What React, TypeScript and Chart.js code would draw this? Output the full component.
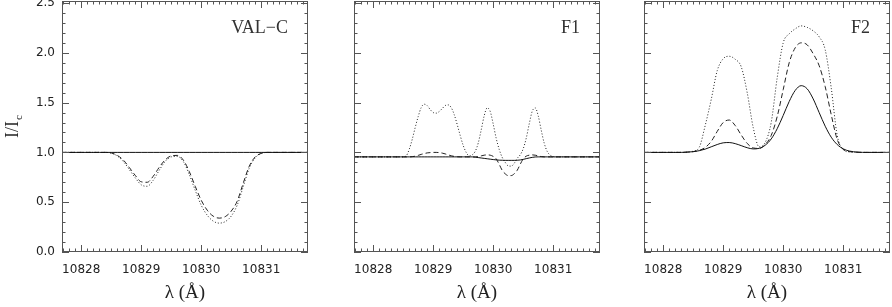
import { useEffect, useRef } from "react";
import { Chart, registerables } from "chart.js";
Chart.register(...registerables);

// ---------- axes ----------
const xTicks = [10828, 10829, 10830, 10831];
const yTicks = [0, 0.5, 1.0, 1.5, 2.0, 2.5];
const X_MIN = 10827.68;
const X_MAX = 10831.78;
const Y_MIN = 0;
const Y_MAX = 2.52;
const panelNames = ["VAL\u2212C", "F1", "F2"];

// ---------- wavelength grids (Å) ----------
const lambdaCoarse = [
  10827.68, 10828.0, 10828.3, 10828.4, 10828.5, 10828.6, 10828.7, 10828.8, 10828.9, 10829.0,
  10829.1, 10829.2, 10829.3, 10829.4, 10829.5, 10829.6, 10829.7, 10829.8, 10829.9, 10830.0,
  10830.1, 10830.2, 10830.3, 10830.4, 10830.5, 10830.6, 10830.7, 10830.8, 10830.9, 10831.0,
  10831.1, 10831.4, 10831.78,
];
const lambdaFine = [
  10827.68, 10828.0, 10828.3, 10828.4, 10828.45, 10828.5, 10828.55, 10828.6, 10828.65, 10828.7,
  10828.75, 10828.8, 10828.85, 10828.9, 10828.95, 10829.0, 10829.05, 10829.1, 10829.15, 10829.2,
  10829.25, 10829.3, 10829.35, 10829.4, 10829.45, 10829.5, 10829.55, 10829.6, 10829.65, 10829.7,
  10829.75, 10829.8, 10829.85, 10829.9, 10829.95, 10830.0, 10830.05, 10830.1, 10830.15, 10830.2,
  10830.25, 10830.3, 10830.35, 10830.4, 10830.45, 10830.5, 10830.55, 10830.6, 10830.65, 10830.7,
  10830.75, 10830.8, 10830.85, 10830.9, 10830.95, 10831.0, 10831.05, 10831.1, 10831.4, 10831.78,
];

// ---------- VAL-C ----------
const valcSolid = [
  1, 1, 1, 1, 1, 1, 1, 1, 1, 1, 1, 1, 1, 1, 1, 1, 1, 1, 1, 1, 1, 1, 1, 1, 1, 1, 1, 1, 1, 1, 1, 1, 1,
];
const valcDashed = [
  1, 1, 1, 1, 0.995, 0.97, 0.925, 0.85, 0.77, 0.705, 0.7, 0.76, 0.85, 0.925, 0.965, 0.97, 0.925,
  0.81, 0.66, 0.52, 0.42, 0.36, 0.34, 0.355, 0.41, 0.51, 0.69, 0.86, 0.955, 0.99, 1, 1, 1,
];
const valcDotted = [
  1, 1, 1, 1, 0.993, 0.965, 0.91, 0.83, 0.745, 0.675, 0.66, 0.72, 0.82, 0.91, 0.955, 0.96, 0.91,
  0.78, 0.62, 0.47, 0.37, 0.31, 0.29, 0.305, 0.36, 0.47, 0.655, 0.84, 0.945, 0.988, 1, 1, 1,
];

// ---------- F1 ----------
const f1Solid = [
  0.955, 0.955, 0.955, 0.955, 0.955, 0.955, 0.955, 0.955, 0.955, 0.955,
  0.955, 0.955, 0.955, 0.955, 0.955, 0.955, 0.955, 0.955, 0.955, 0.955,
  0.955, 0.955, 0.955, 0.955, 0.955, 0.955, 0.955, 0.955, 0.955, 0.952,
  0.948, 0.944, 0.94, 0.936, 0.932, 0.928, 0.925, 0.922, 0.921, 0.92,
  0.92, 0.92, 0.92, 0.921, 0.924, 0.93, 0.937, 0.944, 0.95, 0.954,
  0.955, 0.955, 0.955, 0.955, 0.955, 0.955, 0.955, 0.955, 0.955, 0.955,
];
const f1Dashed = [
  0.955, 0.955, 0.955, 0.955, 0.955, 0.955, 0.955, 0.955, 0.957, 0.962,
  0.97, 0.98, 0.988, 0.995, 0.998, 1.0, 1.0, 0.998, 0.993, 0.985,
  0.975, 0.966, 0.96, 0.956, 0.955, 0.955, 0.955, 0.955, 0.955, 0.955,
  0.958, 0.965, 0.972, 0.975, 0.972, 0.96, 0.935, 0.88, 0.82, 0.785,
  0.767, 0.767, 0.785, 0.82, 0.88, 0.935, 0.962, 0.972, 0.975, 0.972,
  0.965, 0.958, 0.955, 0.955, 0.955, 0.955, 0.955, 0.955, 0.955, 0.955,
];
const f1Dotted = [
  0.955, 0.955, 0.955, 0.955, 0.955, 0.955, 0.965, 1.03, 1.13, 1.25,
  1.36, 1.45, 1.484, 1.47, 1.43, 1.4, 1.394, 1.41, 1.44, 1.47,
  1.477, 1.45, 1.38, 1.28, 1.17, 1.07, 1.0, 0.965, 0.975, 1.01,
  1.093, 1.225, 1.368, 1.447, 1.412, 1.285, 1.141, 1.03, 0.95, 0.9,
  0.865, 0.862, 0.89, 0.94, 0.975, 1.036, 1.141, 1.285, 1.412, 1.447,
  1.368, 1.225, 1.093, 1.01, 0.972, 0.958, 0.955, 0.955, 0.955, 0.955,
];

// ---------- F2 ----------
const f2Solid = [
  1.0, 1.0, 1.0, 1.003, 1.007, 1.017, 1.033, 1.056, 1.079, 1.096, 1.099, 1.088, 1.068, 1.047,
  1.035, 1.041, 1.072, 1.135, 1.238, 1.371, 1.511, 1.622, 1.67, 1.638, 1.537, 1.399, 1.263,
  1.153, 1.079, 1.036, 1.014, 1.0, 1.0,
];
const f2Dashed = [
  1.0, 1.0, 1.0, 1.003, 1.008, 1.02, 1.05, 1.11, 1.21, 1.3, 1.325, 1.27, 1.175, 1.09, 1.045,
  1.04, 1.08, 1.17, 1.36, 1.63, 1.9, 2.05, 2.1, 2.08, 1.99, 1.87, 1.66, 1.38, 1.13, 1.03, 1.008,
  1.0, 1.0,
];
const f2Dotted = [
  1.0, 1.0, 1.0, 1.002, 1.012, 1.05, 1.27, 1.53, 1.82, 1.94, 1.965, 1.935, 1.86, 1.6, 1.25,
  1.055, 1.1, 1.3, 1.75, 2.1, 2.19, 2.24, 2.27, 2.255, 2.22, 2.16, 2.03, 1.65, 1.17, 1.03, 1.005,
  1.0, 1.0,
];

const panels = [
  { name: panelNames[0], lambda: lambdaCoarse, solid: valcSolid, dashed: valcDashed, dotted: valcDotted, left: 62, right: 308, showY: true },
  { name: panelNames[1], lambda: lambdaFine, solid: f1Solid, dashed: f1Dashed, dotted: f1Dotted, left: 354, right: 600, showY: false },
  { name: panelNames[2], lambda: lambdaCoarse, solid: f2Solid, dashed: f2Dashed, dotted: f2Dotted, left: 644, right: 890, showY: false },
];

const W = 892;
const H = 307;
const FRAME = "#555";
const INK = "#222";

const framePlugin = {
  id: "frameTicks",
  afterDatasetsDraw(chart: any, _args: any, opts: any) {
    const { ctx, chartArea: a, scales } = chart;
    const xs = scales.x;
    const ys = scales.y;
    ctx.save();
    ctx.strokeStyle = FRAME;
    ctx.lineWidth = 1;
    ctx.strokeRect(a.left + 0.5, a.top + 0.5, a.right - a.left - 1, a.bottom - a.top - 1);
    ctx.beginPath();
    // x ticks every 0.1 Å, majors on integers
    for (let i = 0; i <= 41; i++) {
      const v = 10827.7 + i * 0.1;
      if (v < X_MIN || v > X_MAX) continue;
      const isMajor = Math.abs(v - Math.round(v)) < 1e-6;
      const len = isMajor ? 7 : 3.5;
      const px = Math.round(xs.getPixelForValue(v)) + 0.5;
      ctx.moveTo(px, a.bottom);
      ctx.lineTo(px, a.bottom - len);
      ctx.moveTo(px, a.top);
      ctx.lineTo(px, a.top + len);
    }
    // y ticks every 0.1, majors every 0.5
    for (let i = 0; i <= 25; i++) {
      const v = i * 0.1;
      const isMajor = i % 5 === 0;
      const len = isMajor ? 7 : 3.5;
      const py = Math.round(ys.getPixelForValue(v)) + 0.5;
      ctx.moveTo(a.left, py);
      ctx.lineTo(a.left + len, py);
      ctx.moveTo(a.right, py);
      ctx.lineTo(a.right - len, py);
    }
    ctx.stroke();

    // panel label
    ctx.fillStyle = "#333";
    ctx.font = '18px "Liberation Serif", "DejaVu Serif", serif';
    ctx.textAlign = "right";
    ctx.textBaseline = "alphabetic";
    ctx.fillText(opts.label, a.right - 20, 33);

    // y-axis title with subscript
    if (opts.showY) {
      ctx.save();
      ctx.translate(13, (a.top + a.bottom) / 2);
      ctx.rotate(-Math.PI / 2);
      ctx.font = '18px "Liberation Serif", "DejaVu Serif", serif';
      const main = "I/I";
      const wMain = ctx.measureText(main).width;
      ctx.font = '11px "Liberation Serif", "DejaVu Serif", serif';
      const wSub = ctx.measureText("c").width;
      const start = -(wMain + wSub + 1) / 2;
      ctx.textAlign = "left";
      ctx.textBaseline = "middle";
      ctx.font = '18px "Liberation Serif", "DejaVu Serif", serif';
      ctx.fillStyle = INK;
      ctx.fillText(main, start, 0);
      ctx.font = '11px "Liberation Serif", "DejaVu Serif", serif';
      ctx.fillText("c", start + wMain + 1, 6);
      ctx.restore();
    }
    ctx.restore();
  },
};

function Panel({ p }: { p: any }) {
  const ref = useRef<HTMLCanvasElement>(null);
  useEffect(() => {
    if (!ref.current) return;
    const mk = (vals: number[]) => p.lambda.map((x: number, i: number) => ({ x, y: vals[i] }));
    const yWidth = p.showY ? 40 : 0;
    const chart = new Chart(ref.current, {
      type: "line",
      data: {
        datasets: [
          { label: "solid", data: mk(p.solid), borderColor: "#111", borderWidth: 1, pointRadius: 0, cubicInterpolationMode: "monotone", fill: false },
          { label: "dashed", data: mk(p.dashed), borderColor: "#222", borderWidth: 1, borderDash: [5, 3], pointRadius: 0, cubicInterpolationMode: "monotone", fill: false },
          { label: "dotted", data: mk(p.dotted), borderColor: "#222", borderWidth: 1, borderDash: [1, 2], pointRadius: 0, cubicInterpolationMode: "monotone", fill: false },
        ],
      } as any,
      options: {
        animation: false,
        responsive: false,
        devicePixelRatio: 1,
        events: [],
        layout: { autoPadding: false, padding: { left: p.left - yWidth, right: W - p.right, top: 1, bottom: 0 } },
        plugins: {
          legend: { display: false },
          tooltip: { enabled: false },
          frameTicks: { label: p.name, showY: p.showY },
        } as any,
        scales: {
          x: {
            type: "linear",
            min: X_MIN,
            max: X_MAX,
            afterBuildTicks: (s: any) => {
              s.ticks = xTicks.map((v) => ({ value: v }));
            },
            afterFit: (s: any) => {
              s.height = 55;
              s.paddingLeft = 0;
              s.paddingRight = 0;
            },
            grid: { display: false, drawTicks: false },
            border: { display: false },
            ticks: {
              autoSkip: false,
              maxRotation: 0,
              padding: 11,
              color: INK,
              font: { family: '"DejaVu Sans", sans-serif', size: 12 },
              callback: (v: any) => String(v),
            },
            title: {
              display: true,
              text: "\u03bb (\u00c5)",
              color: INK,
              font: { family: '"Liberation Serif", "DejaVu Serif", serif', size: 19 },
              padding: { top: 0, bottom: 3 },
            },
          },
          y: {
            type: "linear",
            min: Y_MIN,
            max: Y_MAX,
            afterBuildTicks: (s: any) => {
              s.ticks = yTicks.map((v) => ({ value: v }));
            },
            afterFit: (s: any) => {
              s.width = yWidth;
              s.paddingTop = 0;
              s.paddingBottom = 0;
            },
            grid: { display: false, drawTicks: false },
            border: { display: false },
            ticks: {
              display: p.showY,
              padding: 7,
              color: INK,
              font: { family: '"DejaVu Sans", sans-serif', size: 12 },
              callback: (v: any) => Number(v).toFixed(1),
            },
          },
        },
      } as any,
      plugins: [framePlugin as any],
    });
    return () => chart.destroy();
  }, [p]);
  return (
    <canvas
      ref={ref}
      width={W}
      height={H}
      style={{ position: "absolute", left: 0, top: 0, width: W, height: H }}
    />
  );
}

export default function App() {
  return (
    <div style={{ position: "absolute", left: 0, top: 0, width: W, height: H, background: "#fff", overflow: "hidden" }}>
      {panels.map((p, i) => (
        <Panel key={i} p={p} />
      ))}
    </div>
  );
}
